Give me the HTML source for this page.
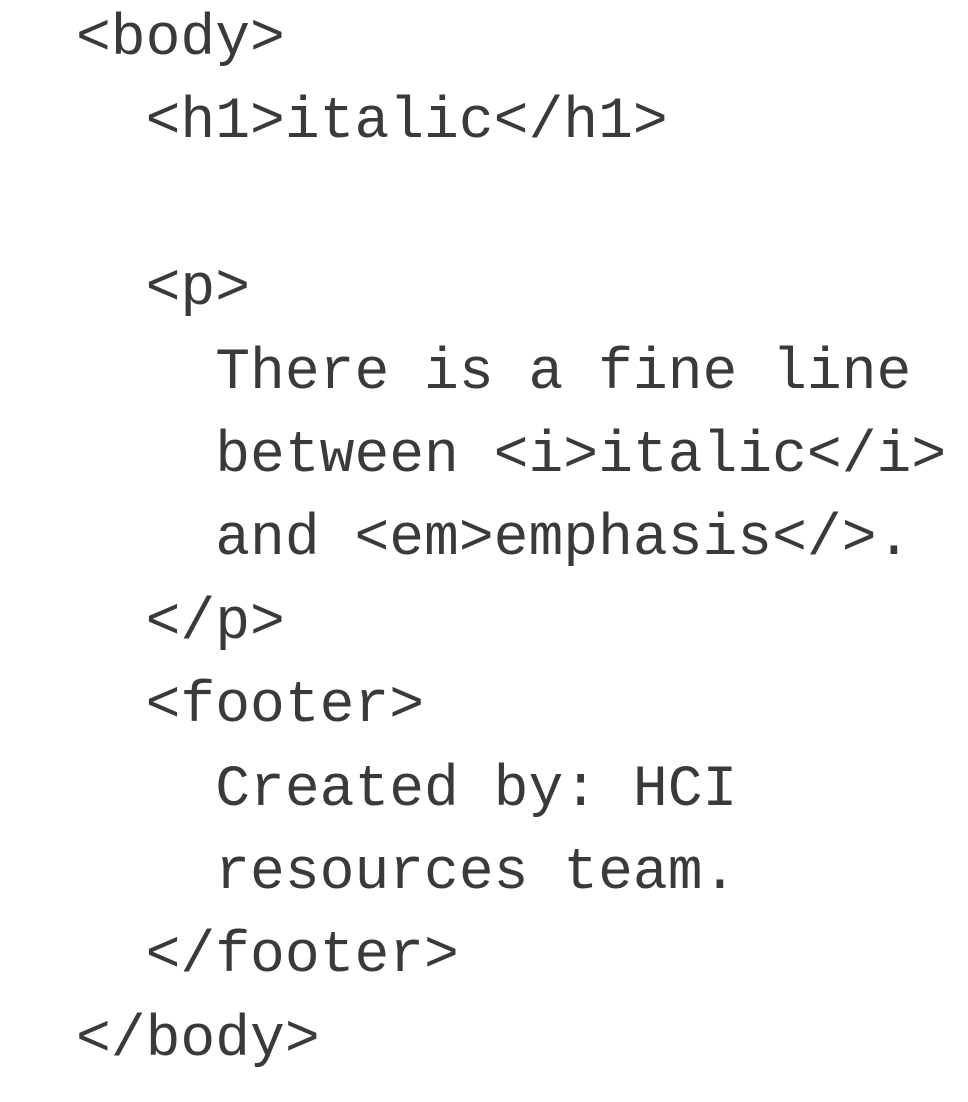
<!DOCTYPE html>
<html>
<head>
<meta charset="utf-8">
<style>
html,body{margin:0;padding:0;background:#fff;width:968px;height:1102px;overflow:hidden;}
pre{position:absolute;left:76px;top:-2px;margin:0;font-family:"Liberation Mono",monospace;font-size:58px;line-height:83.4px;color:#3a3a3a;letter-spacing:0px;}
</style>
</head>
<body>
<pre>&lt;body&gt;
  &lt;h1&gt;italic&lt;/h1&gt;

  &lt;p&gt;
    There is a fine line
    between &lt;i&gt;italic&lt;/i&gt;
    and &lt;em&gt;emphasis&lt;/&gt;.
  &lt;/p&gt;
  &lt;footer&gt;
    Created by: HCI
    resources team.
  &lt;/footer&gt;
&lt;/body&gt;</pre>
</body>
</html>
